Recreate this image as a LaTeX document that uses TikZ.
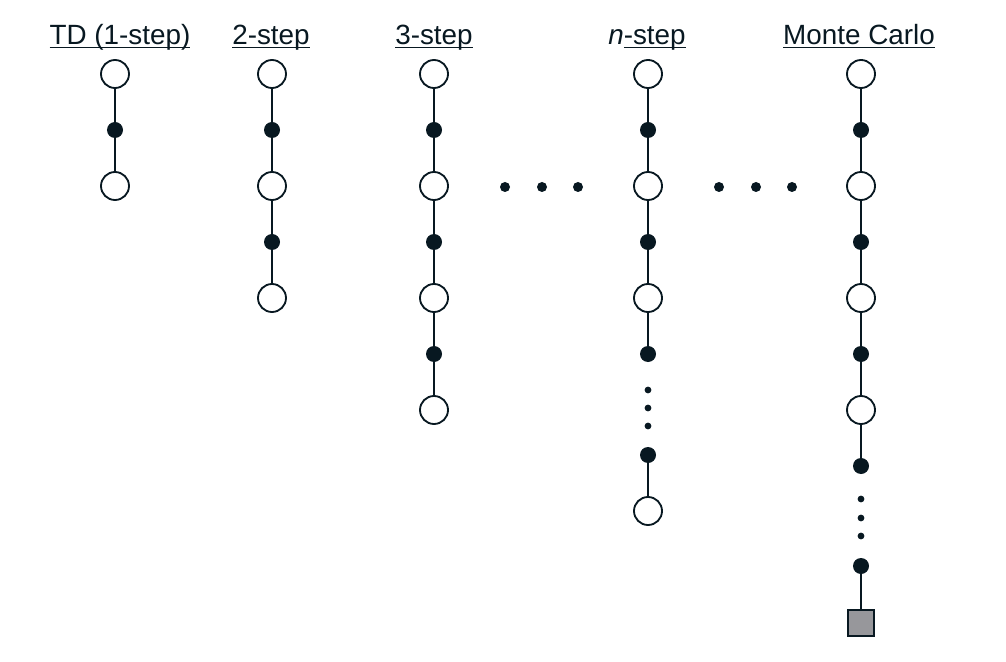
\documentclass[tikz,border=0pt]{standalone}
\usepackage{fontspec}
\setmainfont{Liberation Sans}
\definecolor{ink}{HTML}{081821}
\definecolor{termgray}{HTML}{97979B}
% underline at a fixed depth, crossing the descenders
\newcommand\titleline[1]{\setbox0\hbox{#1}\rlap{\rule[-2.4pt]{\wd0}{0.9pt}}\box0}

\begin{document}
\begin{tikzpicture}[
    x=0.025cm, y=-0.025cm,
    state/.style={circle, draw=ink, fill=white, line width=1.3pt, minimum size=0.7cm, inner sep=0pt},
    action/.style={circle, fill=ink, minimum size=0.4cm, inner sep=0pt},
    gap/.style={circle, fill=ink, minimum size=0.17cm, inner sep=0pt},
    hdot/.style={circle, fill=ink, minimum size=0.25cm, inner sep=0pt},
    term/.style={rectangle, draw=ink, fill=termgray, line width=1.3pt, minimum size=0.65cm, inner sep=0pt},
    link/.style={draw=ink, line width=1.3pt},
    title/.style={anchor=base, text=ink, font=\fontsize{19.8}{22}\selectfont}]
    \useasboundingbox (0,0) rectangle (1006,662);

    % titles
    \node [title] (ttd)    at (120,45) {\titleline{TD (1-step)}};
    \node [title] (ttwo)   at (271,45) {\titleline{2-step}};
    \node [title] (tthree) at (434,45) {\titleline{3-step}};
    \node [title] (tnst)   at (647,45) {\textit{n}\titleline{-step}};
    \node [title] (tmc)    at (859,45) {\titleline{Monte Carlo}};

    % backup columns: states and actions alternate
    \foreach \col/\x/\k in {td/115/2, two/272/4, three/434/6, nst/648/5, mc/861/7} {
      \foreach \i in {0,...,\k} {
        \ifodd\i
          \node [action] (\col\i) at (\x,74+56*\i) {};
        \else
          \node [state] (\col\i) at (\x,74+56*\i) {};
        \fi
      }
      \foreach \i [evaluate=\i as \j using int(\i-1)] in {1,...,\k}
        \draw [link] (\col\j) -- (\col\i);
    }

    % n-step tail
    \foreach \y [count=\n] in {390,408,426}
      \node [gap] (nstg\n) at (648,\y) {};
    \node [action] (nstend) at (648,455) {};
    \node [state] (nstlast) at (648,511) {};
    \draw [link] (nstend) -- (nstlast);

    % Monte Carlo tail
    \foreach \y [count=\n] in {499,518,536}
      \node [gap] (mcg\n) at (861,\y) {};
    \node [action] (mcend) at (861,566) {};
    \node [term] (mcterm) at (861,623) {};
    \draw [link] (mcend) -- (mcterm);

    % dots between columns
    \foreach \x [count=\n] in {505,542,578}
      \node [hdot] (ldot\n) at (\x,187) {};
    \foreach \x [count=\n] in {719,756,792}
      \node [hdot] (rdot\n) at (\x,187) {};
\end{tikzpicture}
\end{document}
